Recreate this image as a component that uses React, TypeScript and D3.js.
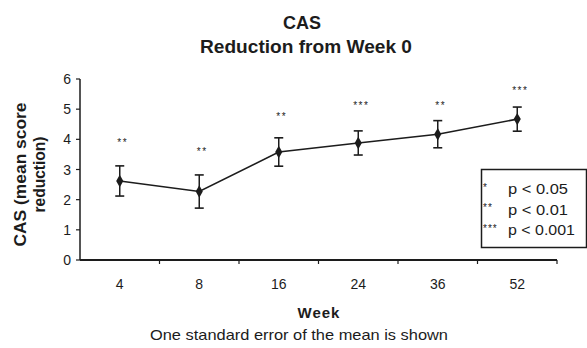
import React from 'react';
import * as d3 from 'd3';

const weeks = ['4', '8', '16', '24', '36', '52'];
const meanReduction = [2.62, 2.27, 3.58, 3.88, 4.17, 4.67];
const stdError = [0.5, 0.55, 0.47, 0.4, 0.45, 0.4];
const significance = ['**', '**', '**', '***', '**', '***'];
const starLevel = [3.97, 3.67, 4.83, 5.2, 5.2, 5.69];
const yTicks = [0, 1, 2, 3, 4, 5, 6];
const legendRows = [
  { stars: '*', label: 'p < 0.05' },
  { stars: '**', label: 'p < 0.01' },
  { stars: '***', label: 'p < 0.001' },
];

const W = 587;
const H = 348;
const ink = '#1c1c1c';
const font = '"Liberation Sans", Arial, Helvetica, sans-serif';

const App: React.FC = () => {
  const x = d3.scaleBand<string>().domain(weeks).range([80, 557]);
  const y = d3.scaleLinear().domain([0, 6]).range([260, 79]);
  const cx = (w: string) => (x(w) as number) + x.bandwidth() / 2;

  const line = d3
    .line<number>()
    .x((_, i) => cx(weeks[i]))
    .y(d => y(d));

  const diamond = d3.symbol().type(d3.symbolDiamond).size(44)();
  const bandEdges = weeks.map(w => (x(w) as number) + x.bandwidth());

  return (
    <div style={{ position: 'fixed', left: 0, top: 0 }}>
      <svg width={W} height={H} style={{ display: 'block', background: '#fff' }} fontFamily={font}>
        {/* titles */}
        <text x={302} y={29} textAnchor="middle" fontSize={18} fontWeight="bold" fill={ink}>
          CAS
        </text>
        <text x={306} y={53} textAnchor="middle" fontSize={18} fontWeight="bold" fill={ink} textLength={212} lengthAdjust="spacingAndGlyphs">
          Reduction from Week 0
        </text>

        {/* y axis */}
        <line x1={80} x2={80} y1={y(6)} y2={y(0)} stroke={ink} strokeWidth={1.5} />
        {yTicks.map(t => (
          <g key={t}>
            <line x1={76} x2={80} y1={y(t)} y2={y(t)} stroke={ink} strokeWidth={1.2} />
            <text x={71} y={y(t)} dy="0.36em" textAnchor="end" fontSize={14} fill={ink}>
              {t}
            </text>
          </g>
        ))}
        <g transform={`translate(0,${(y(0) + y(6)) / 2}) rotate(-90)`}>
          <text x={-5} y={26} textAnchor="middle" fontSize={16.5} fontWeight="bold" fill={ink} textLength={144} lengthAdjust="spacingAndGlyphs">
            CAS (mean score
          </text>
          <text x={-5} y={45} textAnchor="middle" fontSize={16.5} fontWeight="bold" fill={ink} textLength={76} lengthAdjust="spacingAndGlyphs">
            reduction)
          </text>
        </g>

        {/* x axis */}
        <line x1={80} x2={557} y1={y(0)} y2={y(0)} stroke={ink} strokeWidth={1.8} />
        {bandEdges.map((e, i) => (
          <line key={i} x1={e} x2={e} y1={y(0)} y2={y(0) + 4} stroke={ink} strokeWidth={1.2} />
        ))}
        {weeks.map(w => (
          <text key={w} x={cx(w)} y={289} textAnchor="middle" fontSize={14} fill={ink}>
            {w}
          </text>
        ))}
        <text x={319} y={318} textAnchor="middle" fontSize={15} fontWeight="bold" fill={ink} letterSpacing={1}>
          Week
        </text>
        <text x={299} y={340} textAnchor="middle" fontSize={14.5} fill={ink} textLength={298} lengthAdjust="spacingAndGlyphs">
          One standard error of the mean is shown
        </text>

        {/* series */}
        <path d={line(meanReduction) as string} fill="none" stroke={ink} strokeWidth={1.6} />
        {weeks.map((w, i) => {
          const px = cx(w);
          const top = y(meanReduction[i] + stdError[i]);
          const bot = y(meanReduction[i] - stdError[i]);
          return (
            <g key={w}>
              <line x1={px} x2={px} y1={top} y2={bot} stroke={ink} strokeWidth={1.5} />
              <line x1={px - 4.5} x2={px + 4.5} y1={top} y2={top} stroke={ink} strokeWidth={1.6} />
              <line x1={px - 4.5} x2={px + 4.5} y1={bot} y2={bot} stroke={ink} strokeWidth={1.6} />
              <path d={diamond as string} transform={`translate(${px},${y(meanReduction[i])})`} fill={ink} />
              <text x={px + 3} y={y(starLevel[i]) + 6} textAnchor="middle" fontSize={10} fill={ink} letterSpacing={1.5}>
                {significance[i]}
              </text>
            </g>
          );
        })}

        {/* legend */}
        <rect x={481.5} y={169.5} width={105} height={78} fill="#fff" stroke={ink} strokeWidth={1.5} />
        {legendRows.map((r, i) => (
          <g key={r.label}>
            <text x={483} y={193.5 + i * 20.5 - 3} fontSize={10} fill={ink} letterSpacing={1}>
              {r.stars}
            </text>
            <text x={508} y={194 + i * 20.5} fontSize={15} fill={ink} textLength={r.label.length === 8 ? 60 : 67} lengthAdjust="spacingAndGlyphs">
              {r.label}
            </text>
          </g>
        ))}
      </svg>
    </div>
  );
};

export default App;
